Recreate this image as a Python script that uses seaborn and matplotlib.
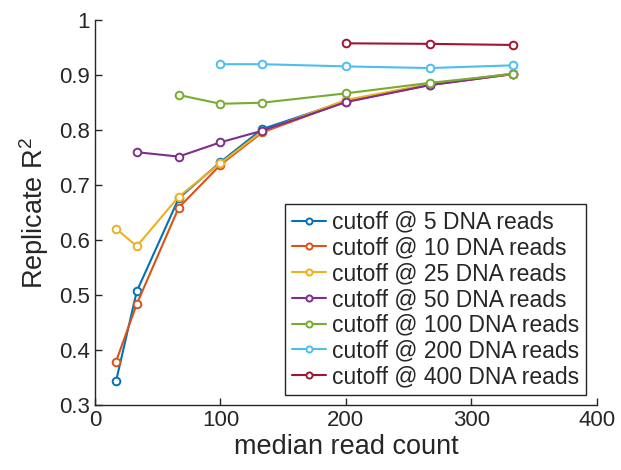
import numpy as np
import pandas as pd
import seaborn as sns
import matplotlib.pyplot as plt

# median read count at each subsampling step
read_counts = [16.7, 33.3, 66.7, 100.0, 133.3, 200.0, 266.7, 333.3]

cutoff_labels = ['cutoff @ 5 DNA reads', 'cutoff @ 10 DNA reads', 'cutoff @ 25 DNA reads',
                 'cutoff @ 50 DNA reads', 'cutoff @ 100 DNA reads', 'cutoff @ 200 DNA reads',
                 'cutoff @ 400 DNA reads']

# replicate R^2 per cutoff (NaN where no point was plotted)
r2_cut5 = [0.343, 0.507, 0.676, 0.742, 0.802, 0.853, 0.883, 0.903]
r2_cut10 = [0.379, 0.484, 0.659, 0.737, 0.796, 0.852, 0.882, 0.902]
r2_cut25 = [0.621, 0.589, 0.679, 0.740, 0.798, 0.855, 0.884, 0.903]
r2_cut50 = [np.nan, 0.760, 0.752, 0.778, 0.799, 0.851, 0.882, 0.902]
r2_cut100 = [np.nan, np.nan, 0.864, 0.848, 0.850, 0.867, 0.886, 0.902]
r2_cut200 = [np.nan, np.nan, np.nan, 0.920, 0.920, 0.916, 0.913, 0.918]
r2_cut400 = [np.nan, np.nan, np.nan, np.nan, np.nan, 0.958, 0.957, 0.955]

all_r2 = [r2_cut5, r2_cut10, r2_cut25, r2_cut50, r2_cut100, r2_cut200, r2_cut400]

colors = ['#0072BD', '#D95319', '#EDB120', '#7E2F8E', '#77AC30', '#4DBEEE', '#A2142F']

# long table for seaborn
rows = []
for lab, vals in zip(cutoff_labels, all_r2):
    for x, y in zip(read_counts, vals):
        if not np.isnan(y):
            rows.append({'median read count': x, 'R2': y, 'cutoff': lab})
df = pd.DataFrame(rows)

sns.set_style('ticks')
plt.rcParams['font.family'] = ['Liberation Sans', 'DejaVu Sans']
plt.rcParams['mathtext.default'] = 'regular'
plt.rcParams['xtick.direction'] = 'in'
plt.rcParams['ytick.direction'] = 'in'

fig = plt.figure(figsize=(6.21, 4.7), dpi=100)
ax = fig.add_axes([0.153, 0.138, 0.808, 0.819])

sns.lineplot(data=df, x='median read count', y='R2', hue='cutoff',
             hue_order=cutoff_labels, palette=colors, marker='o',
             linewidth=1.5, legend=False, ax=ax)

# open circles like the original (seaborn paints the edges white)
for line, c in zip(ax.lines, colors):
    line.set_markeredgecolor(c)
    line.set_markerfacecolor('white')
    line.set_markeredgewidth(1.4)
    line.set_markersize(5.5)

ax.set_xlim(0, 400)
ax.set_ylim(0.3, 1.0)
ax.set_xticks([0, 100, 200, 300, 400])
ax.set_yticks([0.3, 0.4, 0.5, 0.6, 0.7, 0.8, 0.9, 1.0])
ax.set_yticklabels(['0.3', '0.4', '0.5', '0.6', '0.7', '0.8', '0.9', '1'])
ax.tick_params(labelsize=16, colors='#262626', length=5, width=1)
ax.set_xlabel('median read count', fontsize=19.5, color='#262626', labelpad=2)
ax.set_ylabel('Replicate R$^2$', fontsize=19.5, color='#262626', labelpad=6)
sns.despine(ax=ax)
for s in ['left', 'bottom']:
    ax.spines[s].set_color('#262626')
    ax.spines[s].set_linewidth(1.0)

leg = ax.legend(ax.lines, cutoff_labels, loc='lower right',
                bbox_to_anchor=(0.978, 0.026), borderaxespad=0,
                fontsize=16.5, frameon=True, fancybox=False,
                handlelength=1.5, handletextpad=0.25, labelspacing=0.12,
                borderpad=0.3, markerscale=0.8)
leg.get_frame().set_edgecolor('#262626')
leg.get_frame().set_linewidth(1.0)
leg.get_frame().set_alpha(1)

fig.savefig('out.png', dpi=100)
